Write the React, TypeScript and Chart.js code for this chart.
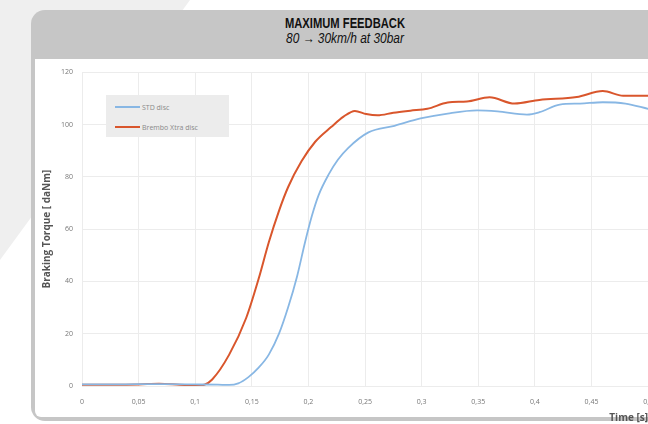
import React, { useEffect, useRef } from "react";
import { Chart, registerables } from "chart.js";

Chart.register(...registerables);

const titleText = "MAXIMUM FEEDBACK";
const subtitleText = "80 \u2192 30km/h at 30bar";
const xAxisTitle = "Time [s]";
const yAxisTitle = "Braking Torque [ daNm]";

const seriesNames = ["STD disc", "Brembo Xtra disc"];
const seriesColors = ["#88b7e4", "#d9562c"];

const stdTime = [0, 0.025, 0.05, 0.075, 0.1, 0.12, 0.13, 0.138, 0.147, 0.156, 0.165, 0.174, 0.182, 0.19, 0.197, 0.203, 0.209, 0.218, 0.226, 0.235, 0.253, 0.276, 0.299, 0.323, 0.349, 0.367, 0.393, 0.404, 0.422, 0.44, 0.46, 0.48, 0.5];
const stdTorque = [0.6, 0.6, 0.7, 0.7, 0.6, 0.5, 0.4, 1, 3.4, 7, 12, 20, 30, 42, 55, 65, 73, 81, 86.5, 91, 97, 99.5, 102.3, 104.2, 105.4, 105, 103.8, 104.7, 107.6, 108, 108.5, 108, 106];

const xtraTime = [0, 0.025, 0.05, 0.068, 0.086, 0.1, 0.108, 0.115, 0.13, 0.145, 0.156, 0.165, 0.174, 0.182, 0.194, 0.206, 0.22, 0.231, 0.241, 0.251, 0.261, 0.275, 0.29, 0.305, 0.323, 0.34, 0.36, 0.382, 0.404, 0.437, 0.46, 0.478, 0.5];
const xtraTorque = [0.5, 0.5, 0.6, 0.9, 0.5, 0.2, 0.5, 2.5, 12, 26, 41, 55, 67, 76, 86, 93.4, 99, 103, 105.2, 104, 103.5, 104.5, 105.3, 106, 108.4, 108.8, 110.4, 108, 109.4, 110.5, 112.8, 111, 111];

const xTicksMin = 0;
const xTicksMax = 0.5;
const xTickStep = 0.05;
const yTicksMin = 0;
const yTicksMax = 120;
const yTickStep = 20;

const tickFont = "'Open Sans', 'DejaVu Sans', sans-serif";
const headFont = "'Liberation Sans', Arial, sans-serif";

function fmtTick(v: number): string {
  const s = parseFloat(v.toFixed(3)).toString();
  return s.replace(".", ",");
}

export default function App() {
  const canvasRef = useRef<HTMLCanvasElement | null>(null);

  useEffect(() => {
    if (!canvasRef.current) return;
    const chart = new Chart(canvasRef.current, {
      type: "line",
      data: {
        datasets: [
          {
            label: seriesNames[0],
            data: stdTime.map((t, i) => ({ x: t, y: stdTorque[i] })),
            borderColor: seriesColors[0],
            backgroundColor: seriesColors[0],
            borderWidth: 1.8,
            pointRadius: 0,
            cubicInterpolationMode: "monotone",
            fill: false,
          },
          {
            label: seriesNames[1],
            data: xtraTime.map((t, i) => ({ x: t, y: xtraTorque[i] })),
            borderColor: seriesColors[1],
            backgroundColor: seriesColors[1],
            borderWidth: 2,
            pointRadius: 0,
            cubicInterpolationMode: "monotone",
            fill: false,
          },
        ],
      },
      options: {
        animation: false,
        responsive: false,
        maintainAspectRatio: false,
        layout: { padding: { left: 0, right: 13, top: 5, bottom: 0 } },
        plugins: {
          legend: { display: false },
          tooltip: { enabled: false },
        },
        scales: {
          x: {
            type: "linear",
            min: xTicksMin,
            max: xTicksMax,
            grid: { color: "#ececec", lineWidth: 1, drawTicks: false },
            border: { display: false },
            ticks: {
              stepSize: xTickStep,
              padding: 12,
              color: "#777",
              font: { family: tickFont, size: 7 },
              maxRotation: 0,
              autoSkip: false,
              callback: (v: any) => fmtTick(Number(v)),
            },
            title: {
              display: true,
              text: xAxisTitle,
              align: "end",
              color: "#555",
              font: { family: tickFont, size: 10, weight: "bold" },
              padding: { top: 0, bottom: 0 },
            },
            afterFit: (s: any) => {
              s.height = 38;
            },
          },
          y: {
            min: yTicksMin,
            max: yTicksMax,
            grid: { color: "#ececec", lineWidth: 1, drawTicks: false },
            border: { display: false },
            ticks: {
              stepSize: yTickStep,
              padding: 9,
              color: "#777",
              font: { family: tickFont, size: 7 },
            },
            title: {
              display: true,
              text: yAxisTitle,
              color: "#555",
              font: { family: tickFont, size: 10, weight: "bold" },
              padding: { top: 6, bottom: 0 },
            },
            afterFit: (s: any) => {
              s.width = 47;
            },
          },
        },
      },
    });
    return () => chart.destroy();
  }, []);

  return (
    <div
      style={{
        position: "absolute",
        left: 0,
        top: 0,
        width: 648,
        height: 424,
        overflow: "hidden",
        background: "#ffffff",
      }}
    >
      <div
        style={{
          position: "absolute",
          left: 0,
          top: 0,
          width: 648,
          height: 424,
          background: "#efefef",
          clipPath: "polygon(0 0, 190px 0, 0 260px)",
        }}
      />
      <div
        style={{
          position: "absolute",
          left: 31,
          top: 10,
          width: 640,
          height: 411,
          borderRadius: 14,
          background: "#c6c6c6",
        }}
      />
      <div
        style={{
          position: "absolute",
          left: 35,
          top: 59,
          width: 640,
          height: 358,
          background: "#ffffff",
          borderBottomLeftRadius: 6,
        }}
      />
      <div
        style={{
          position: "absolute",
          left: 31,
          top: 15,
          width: 628,
          textAlign: "center",
          fontFamily: headFont,
          color: "#111",
        }}
      >
        <div
          style={{
            fontSize: 14,
            fontWeight: "bold",
            lineHeight: "16px",
            transform: "scaleX(0.8)",
            transformOrigin: "center",
          }}
        >
          {titleText}
        </div>
        <div
          style={{
            fontSize: 14,
            fontStyle: "italic",
            lineHeight: "15px",
            transform: "scaleX(0.85)",
            transformOrigin: "center",
          }}
        >
          {subtitleText}
        </div>
      </div>
      <canvas
        ref={canvasRef}
        width={630}
        height={365}
        style={{ position: "absolute", left: 35, top: 59, width: 630, height: 365 }}
      />
      <div
        style={{
          position: "absolute",
          left: 106,
          top: 95,
          width: 123,
          height: 42,
          background: "#ececec",
          fontFamily: tickFont,
          fontSize: 7,
          color: "#8a8a8a",
        }}
      >
        {seriesNames.map((name, i) => (
          <div
            key={name}
            style={{
              position: "absolute",
              left: 9,
              top: 7 + i * 20,
              height: 10,
              display: "flex",
              alignItems: "center",
              whiteSpace: "nowrap",
            }}
          >
            <span
              style={{
                display: "inline-block",
                width: 25,
                height: 2,
                background: seriesColors[i],
                marginRight: 2,
              }}
            />
            <span>{name}</span>
          </div>
        ))}
      </div>
    </div>
  );
}
